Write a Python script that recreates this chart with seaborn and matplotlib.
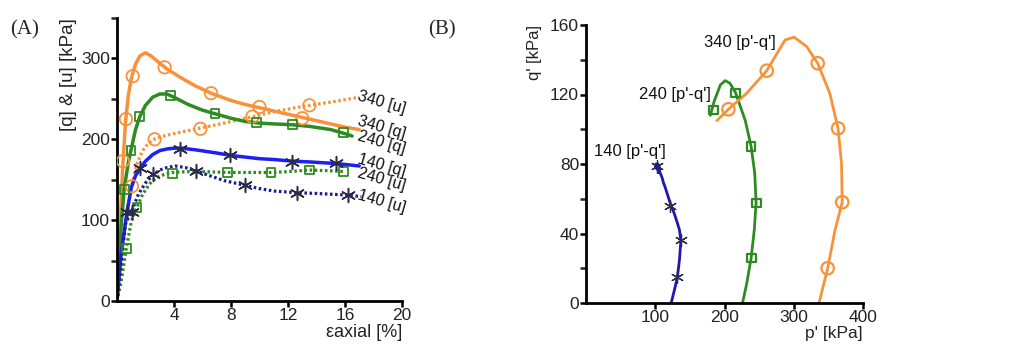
import numpy as np
import pandas as pd
import matplotlib
matplotlib.use("Agg")
import matplotlib.pyplot as plt
import seaborn as sns
from matplotlib.ticker import MultipleLocator

# ---- Panel A data: stress-strain curves ----
q340_x = [0, 0.2, 0.4, 0.6, 0.8, 1.0, 1.3, 1.6, 2.0, 2.4, 3.0, 3.5, 4.5, 5.5, 6.6, 8, 9, 10, 11, 12, 13, 14, 15, 16, 17]
q340_y = [0, 90, 165, 222, 255, 275, 293, 303, 307, 303, 294, 287, 276, 266, 257, 248, 243, 239, 235, 231, 227, 223, 219, 215, 212]
u340_x = [0, 0.3, 0.6, 1.0, 1.4, 1.8, 2.2, 2.7, 3.5, 4.5, 5.9, 7, 8, 9.5, 11, 12.5, 13.5, 15, 16, 17]
u340_y = [0, 40, 95, 140, 170, 186, 195, 201, 205, 209, 214, 218, 222, 228, 234, 239, 242, 246, 249, 252]
q240_x = [0, 0.3, 0.5, 0.8, 1.0, 1.3, 1.6, 2.0, 2.5, 3.0, 3.5, 4.0, 5, 6, 7, 8, 9, 10, 11, 12.3, 13.5, 15, 16, 16.5]
q240_y = [0, 95, 138, 172, 188, 212, 228, 242, 252, 256, 256, 252, 243, 236, 231, 226, 222, 220, 219, 218, 216, 212, 207, 204]
u240_x = [0, 0.3, 0.65, 1.0, 1.4, 1.8, 2.3, 2.8, 3.4, 3.9, 5, 6, 7.8, 9, 10.8, 12, 13.5, 15, 16]
u240_y = [0, 25, 65, 98, 116, 132, 145, 153, 157, 159, 160, 160, 159, 159, 159, 160, 162, 161, 160]
q140_x = [0, 0.3, 0.7, 1.0, 1.3, 1.63, 2.0, 2.5, 3.0, 3.5, 4.0, 4.5, 5.5, 7, 8, 9, 10, 11, 12.3, 13.5, 15.4, 17]
q140_y = [0, 60, 110, 140, 155, 164, 173, 181, 186, 188, 189, 189, 187, 183, 180, 178, 176, 175, 173, 172, 170, 167]
u140_x = [0, 0.3, 0.58, 1.05, 1.5, 2.0, 2.52, 3.0, 3.5, 4.08, 4.8, 5.55, 6.5, 7.5, 9.0, 10, 11, 12.6, 14, 16.2, 17.15]
u140_y = [0, 50, 95, 112, 132, 146, 156, 162, 165, 167, 165, 161, 155, 149, 143, 139, 136, 134, 133, 131, 129]

# markers on panel A
m_q340 = ([0.42, 0.63, 1.1, 3.34, 6.6, 10.0, 13.0], [173, 225, 278, 289, 257, 240, 226])
m_u340 = ([1.05, 2.64, 5.86, 9.5, 13.5], [142, 200, 213, 228, 242])
m_q240 = ([0.51, 0.98, 1.59, 3.73, 6.88, 9.8, 12.3, 15.9], [138, 186, 228, 254, 232, 221, 218, 208])
m_u240 = ([0.65, 1.4, 3.9, 7.77, 10.8, 13.5, 15.9], [65, 116, 158, 159, 159, 162, 160])
m_q140 = ([0.7, 1.63, 4.43, 7.93, 12.3, 15.4], [110, 164, 188, 180, 172, 171])
m_u140 = ([1.05, 2.52, 5.55, 9.0, 12.6, 16.2], [110, 157, 161, 143, 134, 131])

labels_a = ["340 [u]", "340 [q]", "240 [q]", "140 [q]", "240 [u]", "140 [u]"]
label_a_y = [246, 214, 196, 168, 150, 123]

# ---- Panel B data: stress paths ----
p140 = [123, 128, 132, 135, 137, 135, 132, 127, 122, 118, 114, 112, 110, 107, 103, 100, 101, 104, 107, 104]
s140 = [0, 8, 15, 25, 36, 42, 46, 52, 57, 62, 67, 69, 72, 75, 77, 78, 80, 80, 77, 75]
p240 = [226, 232, 238.5, 243, 245.6, 243.7, 238.5, 230, 216, 208, 201, 194, 185, 179.5]
s240 = [0, 11, 26, 42, 57.7, 74.6, 90, 105, 121, 126.4, 128, 125.5, 116, 108]
p340 = [336.5, 349, 359.6, 370, 369, 364, 352, 334.6, 318.7, 300.5, 287.5, 261, 232, 205.7, 189]
s340 = [0, 20, 42, 58, 80, 100.5, 120.7, 138, 147.6, 153, 151.4, 133.7, 120.7, 111.5, 105]

mb140 = ([132, 137, 122, 102], [15, 36, 56, 79])
mb240 = ([239, 246, 238.5, 216, 184], [26, 57.5, 90, 121, 111])
mb340 = ([349, 370, 364, 334.6, 261, 205.7], [20, 58, 100.5, 138, 133.7, 111.5])

labels_b = ["140 [p'-q']", "240 [p'-q']", "340 [p'-q']"]
label_b_pos = [(11, 87), (76, 120), (170, 150)]

ORANGE = "#F7923A"
GREEN = "#2E8B22"
BLUE = "#1F1FF0"
NAVY = "#1C1C8C"
BLUE_B = "#2316B0"
STAR = "#2B2B48"
TXT = "#222222"

sns.set_theme(style="white")
plt.rcParams['font.family'] = ['Liberation Sans', 'DejaVu Sans']

fig = plt.figure(figsize=(10.24, 3.52), dpi=100)
W, H = 1024, 352
axA = fig.add_axes([117 / W, 1 - 301 / H, (402 - 117) / W, (301 - 18) / H])
axB = fig.add_axes([586 / W, 1 - 303 / H, (863 - 586) / W, (303 - 25) / H])

asterisk = (6, 2, 0)
DOT = (0, (0.8, 0.8))


def line(ax, x, y, color, ls="-", lw=2.5):
    sns.lineplot(x=x, y=y, ax=ax, color=color, linestyle=ls, linewidth=lw,
                 sort=False, estimator=None)


def marks(ax, pts, color, marker, s, lw=1.3, open_=True):
    if open_:
        sns.scatterplot(x=pts[0], y=pts[1], ax=ax, marker=marker, s=s,
                        facecolors="none", edgecolors=color, linewidths=lw, zorder=5)
    else:
        sns.scatterplot(x=pts[0], y=pts[1], ax=ax, marker=marker, s=s,
                        color=color, linewidths=lw, zorder=5)


# Panel A
line(axA, q340_x, q340_y, ORANGE)
line(axA, u340_x, u340_y, ORANGE, DOT, 2.3)
line(axA, q240_x, q240_y, GREEN)
line(axA, u240_x, u240_y, GREEN, DOT, 2.3)
line(axA, q140_x, q140_y, BLUE)
line(axA, u140_x, u140_y, NAVY, DOT, 2.3)
marks(axA, m_q340, ORANGE, "o", 80)
marks(axA, m_u340, ORANGE, "o", 80)
marks(axA, m_q240, GREEN, "s", 40)
marks(axA, m_u240, GREEN, "s", 40)
marks(axA, m_q140, STAR, asterisk, 100, 1.1, False)
marks(axA, m_u140, STAR, asterisk, 100, 1.1, False)

for lab, yy in zip(labels_a, label_a_y):
    axA.text(18.6, yy, lab, fontsize=11.5, rotation=-16, ha="center", va="center",
             color="#111111", clip_on=False)

axA.set_xlim(0, 20)
axA.set_ylim(0, 350)
axA.yaxis.set_major_locator(MultipleLocator(100))
axA.yaxis.set_minor_locator(MultipleLocator(50))
axA.set_xticks([4, 8, 12, 16, 20])
axA.set_xlabel("εaxial [%]", fontsize=13, loc="right", labelpad=1, color=TXT)
axA.set_ylabel("[q] & [u] [kPa]", fontsize=13.5, loc="top", labelpad=3, color=TXT)

# Panel B
line(axB, p140, s140, BLUE_B, "-", 2)
line(axB, p240, s240, GREEN, "-", 2)
line(axB, p340, s340, ORANGE, "-", 2)
marks(axB, mb140, STAR, asterisk, 75, 0.9, False)
marks(axB, mb240, GREEN, "s", 36, 1.6)
marks(axB, mb340, ORANGE, "o", 80, 1.6)

for lab, (px, py) in zip(labels_b, label_b_pos):
    axB.text(px, py, lab, fontsize=12, ha="left", va="center", color="#111111")

axB.set_xlim(0, 400)
axB.set_ylim(0, 160)
axB.set_xticks([100, 200, 300, 400])
axB.yaxis.set_major_locator(MultipleLocator(40))
axB.yaxis.set_minor_locator(MultipleLocator(20))
axB.set_xlabel("p' [kPa]", fontsize=12.5, loc="right", labelpad=1, color=TXT)
axB.set_ylabel("q' [kPa]", fontsize=12, loc="top", labelpad=6, color=TXT)

for ax in (axA, axB):
    sns.despine(ax=ax)
    for sp in ("left", "bottom"):
        ax.spines[sp].set_linewidth(2)
        ax.spines[sp].set_color("black")
    ax.tick_params(which="major", direction="out", length=4, width=1.8,
                   labelsize=12.5, colors="black", labelcolor=TXT,
                   left=True, bottom=True, pad=1)
    ax.tick_params(which="minor", direction="out", length=4, width=1.8, left=True)
    ax.set_facecolor("none")

fig.text(10 / W, 1 - 30 / H, "(A)", fontsize=15, family="Liberation Serif", va="center")
fig.text(428 / W, 1 - 30 / H, "(B)", fontsize=15, family="Liberation Serif", va="center")

fig.savefig("out.png", dpi=100)
